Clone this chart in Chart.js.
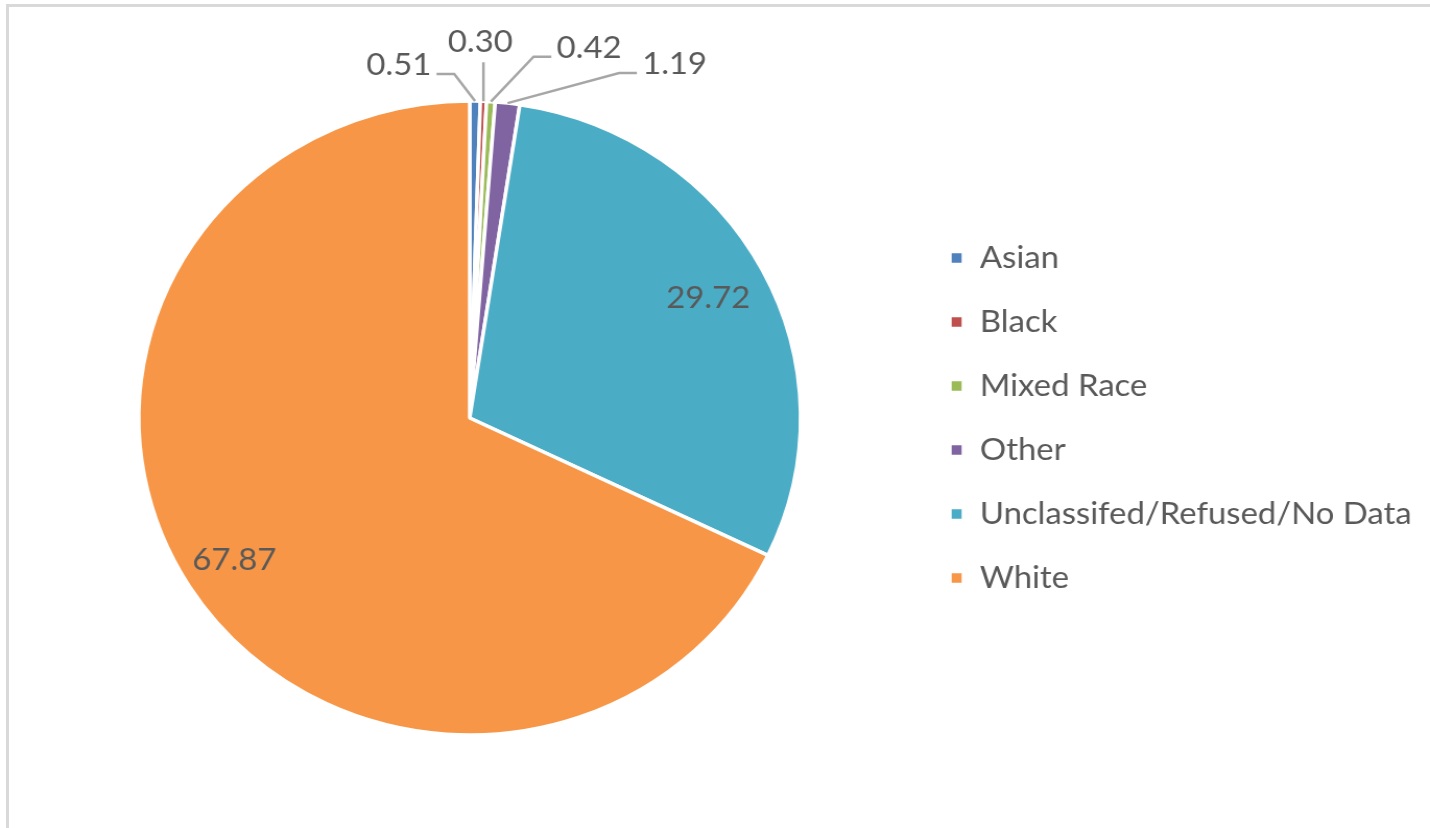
<!DOCTYPE html>
<html>
<head>
<meta charset="utf-8">
<script src="https://cdn.jsdelivr.net/npm/chart.js@4"></script>
<style>
  html, body { margin: 0; padding: 0; background: #fff; overflow: hidden; }
  #frame { position: absolute; left: 6px; top: 4px; width: 1440px; height: 840px;
           border-top: 3px solid #d9d9d9; border-left: 3px solid #d9d9d9; }
  #myChart { position: absolute; left: 0; top: 0; }
</style>
</head>
<body>
<div id="frame"></div>
<!-- the original picture is a little wider than tall, so the canvas is stretched -->
<canvas id="myChart" width="1370" height="828" style="width:1430px;height:828px"></canvas>
<script>
var labels = ["Asian", "Black", "Mixed Race", "Other", "Unclassifed/Refused/No Data", "White"];
var values = [0.51, 0.30, 0.42, 1.19, 29.72, 67.87];
var colors = ["#4F81BD", "#C0504D", "#9BBB59", "#8064A2", "#4BACC6", "#F79646"];

// placement of the value labels: small slices get an offset from the slice edge,
// big ones sit inside at a fraction of the radius
var labelPos = [
  { dx: -73, dy: -36 },
  { dx: -3, dy: -59 },
  { dx: 94, dy: -54 },
  { dx: 160, dy: -39 },
  { r: 0.815 },
  { r: 0.84 }
];

var FONT = "Lato, 'Open Sans', sans-serif";
var TEXT = "#595959";
var SIZE = 31.5;
var PAD = 64 - SIZE;

var valueLabels = {
  id: "valueLabels",
  afterDatasetsDraw: function (chart) {
    var c = chart.ctx;
    var arcs = chart.getDatasetMeta(0).data;
    c.save();
    c.font = SIZE + "px " + FONT;
    c.fillStyle = TEXT;
    c.textAlign = "center";
    c.textBaseline = "middle";
    c.strokeStyle = "#a6a6a6";
    c.lineWidth = 2.5;
    arcs.forEach(function (arc, i) {
      var p = arc.getProps(["x", "y", "startAngle", "endAngle", "outerRadius"], true);
      var mid = (p.startAngle + p.endAngle) / 2;
      var cos = Math.cos(mid), sin = Math.sin(mid);
      var text = values[i].toFixed(2);
      var pos = labelPos[i];
      if (pos.r) {
        c.fillText(text, p.x + cos * p.outerRadius * pos.r, p.y + sin * p.outerRadius * pos.r);
        return;
      }
      var ex = p.x + cos * p.outerRadius, ey = p.y + sin * p.outerRadius;
      var tx = ex + pos.dx, ty = ey + pos.dy;
      var w = c.measureText(text).width;
      // leader line
      c.beginPath();
      c.moveTo(ex, ey);
      if (Math.abs(pos.dx) < w / 2) {
        c.lineTo(ex, ty + 20);
      } else {
        var side = pos.dx < 0 ? 1 : -1;
        var ax = tx + side * (w / 2 + 5);
        c.lineTo(ax + side * 17, ty + 9);
        c.lineTo(ax, ty + 9);
      }
      c.stroke();
      c.fillText(text, tx, ty);
    });
    c.restore();
  }
};

var ctx = document.getElementById("myChart").getContext("2d");
ctx.font = SIZE + "px " + FONT;
var widest = 0;
labels.forEach(function (l) {
  widest = Math.max(widest, ctx.measureText(l).width);
});
// legend box: padding + colour box + gap + text, plus the 10px chart.js adds
var legendW = PAD + 13 + SIZE / 2 + widest + 10;
var legendLeft = 910 - PAD;
var pieCenter = 450;

var myChart = new Chart(ctx, {
  type: "pie",
  data: {
    labels: labels,
    datasets: [
      {
        data: values,
        backgroundColor: colors,
        borderColor: "#ffffff",
        borderWidth: 3.5,
      },
    ],
  },
  options: {
    responsive: false,
    animation: false,
    devicePixelRatio: 1,
    radius: 317,
    layout: {
      padding: {
        left: 2 * pieCenter - legendLeft,
        right: 1370 - legendLeft - legendW,
        top: 12,
        bottom: 4,
      },
    },
    plugins: {
      legend: {
        position: "right",
        labels: {
          boxWidth: 13,
          boxHeight: 13,
          padding: PAD,
          color: TEXT,
          font: { family: FONT, size: SIZE },
        },
      },
      tooltip: { enabled: false },
    },
  },
  plugins: [valueLabels],
});
</script>
</body>
</html>
